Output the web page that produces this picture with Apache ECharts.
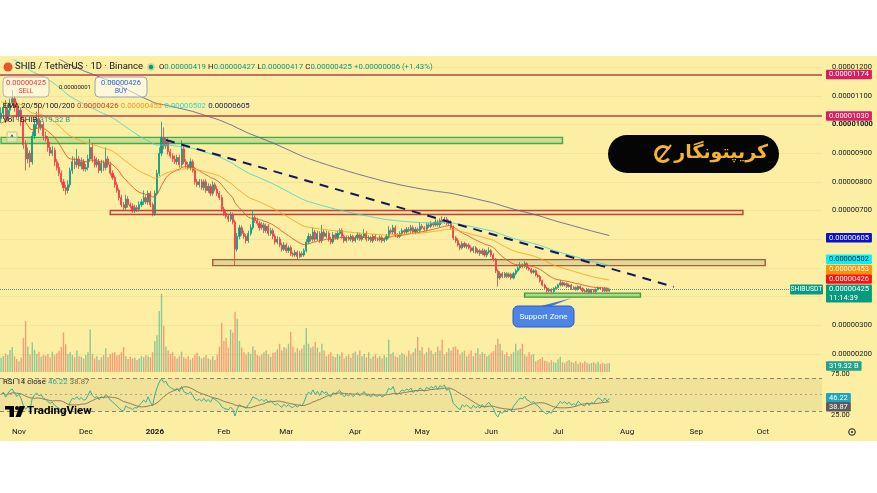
<!DOCTYPE html>
<html>
<head>
<meta charset="utf-8">
<script src="https://cdn.jsdelivr.net/npm/echarts@6/dist/echarts.min.js"></script>
<style>
  html, body { margin: 0; padding: 0; background: #fff; }
  #chart { width: 877px; height: 493px; }
</style>
</head>
<body>
<div id="chart"></div>
<script>
// ---- data (prices in units of 1e-8 USDT) ----
const firstDay = '2025-10-24';
const totalDays = 369;          // time axis runs on into late Oct 2026
const firstOpen = 1020;

const closes = [
  1040,1060,1020,1050,1075,1090,1060,1030,1050,1010,
  930,880,900,870,960,1000,1020,990,1000,960,
  950,920,900,910,870,850,830,800,780,770,
  790,840,870,860,880,855,870,845,850,880,
  920,880,860,870,840,865,850,880,860,830,
  815,790,770,745,720,710,740,720,715,700,
  710,705,720,730,745,730,760,720,690,760,
  830,900,955,925,940,905,890,880,870,885,
  860,915,870,860,850,870,840,800,790,800,
  780,800,770,785,760,790,775,760,745,705,
  690,680,670,685,660,565,610,640,620,610,
  595,620,640,675,665,655,640,650,630,645,
  620,630,610,590,600,580,565,580,560,570,
  550,545,555,540,550,545,560,590,610,600,
  625,600,620,595,625,610,620,600,590,615,
  605,620,630,610,595,605,600,610,595,605,
  615,600,610,620,600,605,595,610,600,598,
  605,595,600,610,630,625,640,615,610,620,
  630,625,635,630,640,625,635,630,645,640,
  635,650,645,655,650,660,650,665,660,670,
  655,660,640,605,595,580,570,585,575,580,
  570,560,570,555,560,550,560,545,555,560,
  545,530,490,465,480,470,480,470,478,465,
  480,490,500,510,505,515,500,495,485,490,
  475,470,455,440,430,420,425,418,428,432,
  440,448,440,445,435,440,428,432,425,435,
  428,420,418,425,415,422,418,425,430,428,
  420,428,419,425
];

const upWick = [
  20,15,25,20,15,30,10,20,15,10, 10,15,20,10,15,20,25,50,15,10,
  15,10,20,15,10,10,15,10,10,10, 15,10,20,15,35,10,15,10,12,15,
  30,15,10,15,10,12,10,40,10,10, 10,8,10,8,10,10,15,10,8,10,
  10,8,12,10,25,10,10,8,8,10, 12,20,55,35,15,15,10,10,12,10,
  10,30,12,10,10,12,8,10,10,10, 10,8,10,10,8,12,8,10,8,10,
  8,10,8,10,8,8,12,10,8,10, 8,10,12,27,8,10,8,10,8,10,
  8,10,8,8,10,8,8,10,8,8, 8,6,8,6,8,8,8,10,12,8,
  15,8,10,8,25,8,10,8,8,10, 8,10,8,8,6,8,8,8,6,8,
  10,8,8,15,8,8,6,8,8,6, 8,8,6,8,15,8,10,8,6,8,
  8,6,8,8,10,8,8,6,15,8, 6,8,8,8,6,10,8,8,15,8,
  8,8,6,8,6,8,6,8,6,6, 6,8,6,6,8,6,8,6,8,12,
  6,6,5,6,8,6,6,5,6,5, 6,6,6,10,6,8,5,6,5,6,
  5,5,5,4,5,4,5,4,5,5, 5,10,5,5,4,5,4,5,4,5,
  4,4,4,5,4,5,4,4,5,4, 4,5,4,2
];

const downWick = [
  15,20,15,10,20,10,15,10,20,15, 15,40,15,20,10,10,15,20,10,15,
  10,15,10,10,15,10,10,10,12,15, 10,10,12,15,10,10,12,8,10,10,
  10,12,10,10,10,8,12,10,10,8, 8,10,8,10,8,10,8,10,8,8,
  8,10,8,8,10,8,10,8,10,8, 8,10,10,12,10,10,8,10,8,10,
  10,10,8,10,8,10,8,10,8,10, 8,10,8,8,10,8,8,10,8,8,
  8,8,10,8,8,55,8,10,8,8, 10,8,8,8,8,8,10,8,8,8,
  8,8,10,8,8,8,8,6,8,8, 8,6,6,10,6,8,6,6,8,8,
  8,8,6,8,8,8,6,8,8,6, 6,8,6,8,8,6,6,8,6,6,
  8,6,8,6,8,6,6,8,6,6, 6,8,6,6,8,6,8,8,6,6,
  6,8,6,6,8,6,8,6,8,6, 6,8,6,6,8,6,6,8,6,6,
  6,8,6,8,8,6,8,6,6,8, 6,6,8,6,6,8,6,6,8,6,
  6,8,8,30,6,6,5,6,5,6, 5,6,5,6,6,5,6,5,6,5,
  5,5,6,5,5,8,5,4,5,4, 4,5,5,4,5,4,5,4,5,4,
  4,5,4,4,5,4,4,5,4,4, 4,4,4,2
];

// volume in billions of SHIB
const volumes = [
  500,560,650,600,780,880,560,460,380,500, 1200,1800,900,620,1050,780,640,720,540,600,
  580,640,520,720,600,650,740,880,1400,980, 640,700,600,520,760,560,540,480,600,700,
  1500,640,480,560,420,520,600,840,520,640, 680,700,580,600,700,880,560,460,540,480,
  500,420,480,560,520,600,560,520,700,1100, 1300,2150,2770,1630,900,760,640,700,560,480,
  560,720,520,480,560,440,500,620,680,560, 480,520,600,480,440,560,420,620,900,1740,
  1100,1200,860,1500,1400,2130,1880,1100,860,700, 620,700,640,900,780,600,560,620,700,760,
  620,540,680,700,800,1000,760,880,840,1000, 1420,900,700,840,760,820,960,1560,1000,860,
  900,1060,860,700,1000,760,560,620,700,560, 520,640,580,700,480,560,620,500,660,720,
  600,760,560,640,520,700,480,560,620,500, 560,480,600,520,1140,640,700,560,520,600,
  680,620,560,760,620,700,840,1240,760,880, 620,700,860,760,640,700,900,760,1140,620,
  700,840,760,880,900,800,620,700,760,560, 620,760,560,680,840,620,700,640,560,600,
  680,740,960,1180,1000,760,620,700,560,640, 700,1000,760,820,1000,620,560,700,600,640,
  380,420,460,520,400,380,340,420,360,330, 450,540,350,320,380,420,360,330,390,290,
  350,320,380,330,290,320,350,300,360,280, 320,290,300,319.32
];

const emaPeriods = [20, 50, 100, 200];
const emaSeeds = [1000, 1080, 1250, 1310];   // values at the left edge
const emaLast = [426, 453, 502, 605];        // legend / tag values
const lastPrice = 425;
const bidAsk = ['0.00000425', '0.00000426', '0.00000001'];
const volLast = 319.32;
const rsiLast = [46.22, 38.87];
const hLevels = [1174, 1030];
const trendLine = [[74, 946], [302, 434]];    // [day index, price]
// zones: [from day, to day, low, high]
const zoneTop = [0, 252, 934, 955];
const zone700 = [49, 333, 686, 700];
const zone520 = [95, 343, 508, 529];
const zoneSupport = [235, 287, 398, 412];

// ---- derived ----
const dates = [];
const t0 = Date.parse(firstDay + 'T00:00:00Z');
for (let i = 0; i < totalDays; i++) dates.push(new Date(t0 + i * 864e5).toISOString().slice(0, 10));

const candles = closes.map((c, i) => {
  const o = i ? closes[i - 1] : firstOpen;
  return [o, c, Math.min(o, c) - downWick[i], Math.max(o, c) + upWick[i]];
});

function ema(src, n, seed) {
  const a = 2 / (n + 1);
  let e = seed;
  return src.map(v => (e += a * (v - e)));
}
const emas = emaPeriods.map((n, k) => ema(closes, n, emaSeeds[k]));

const rsi = [];
let ag = 12, al = 12;
closes.forEach((c, i) => {
  if (i) {
    const d = c - closes[i - 1];
    ag = (ag * 13 + Math.max(d, 0)) / 14;
    al = (al * 13 + Math.max(-d, 0)) / 14;
  }
  rsi.push(100 - 100 / (1 + ag / al));
});
const rsiMa = rsi.map((v, i) => {
  const s = rsi.slice(Math.max(0, i - 13), i + 1);
  return s.reduce((a, b) => a + b, 0) / s.length;
});

const UP = '#089981', DOWN = '#f23645';
const BG = '#fcefa4';
const FONT = 'Roboto, "Liberation Sans", sans-serif';
const TXT = '#131722';
const CLEAR = 'rgba(0,0,0,0)';
const MONTHS = ['Jan','Feb','Mar','Apr','May','Jun','Jul','Aug','Sep','Oct','Nov','Dec'];
const emaColors = ['#e2521f', '#f5a31a', '#3fd6d0', '#5a5d92'];
const emaTagBg = ['#ff1010', '#ff9000', '#00f2ff', '#0a10cc'];
const emaTagFg = ['#fff', '#fff', TXT, '#fff'];
const emaTagShift = [-10, -12, -8, 0];   // stacked tags are pushed apart on the scale
const fmtP = v => (v * 1e-8).toFixed(8);

// price tag on the right scale; the line itself is invisible unless overridden
function tag(value, text, bg, fg, extra) {
  const item = {
    yAxis: value,
    lineStyle: { color: CLEAR, width: 1 },
    label: {
      show: true, position: 'end', distance: 4, formatter: text,
      backgroundColor: bg, color: fg || '#fff', fontSize: 7.5, fontFamily: FONT,
      padding: [1, 3, 0, 3], borderRadius: 1, lineHeight: 8.5
    }
  };
  if (extra && extra.lineStyle) item.lineStyle = extra.lineStyle;
  if (extra && extra.offset) item.label.offset = extra.offset;
  return item;
}
function plainLabel(value, text) {
  return {
    yAxis: value, lineStyle: { color: CLEAR },
    label: { show: true, position: 'end', distance: 9, formatter: text, color: TXT, fontSize: 7.5, fontFamily: FONT }
  };
}
function zone(z, fill, border) {
  return [
    { xAxis: dates[z[0]], yAxis: z[2], itemStyle: { color: fill, borderColor: border, borderWidth: 1.4 } },
    { xAxis: dates[z[1]], yAxis: z[3] }
  ];
}

const chart = echarts.init(document.getElementById('chart'), null, { renderer: 'canvas' });

const grids = [
  { left: 0, top: 60, width: 822, height: 322.6, outerBoundsMode: 'none' },   // price
  { left: 0, top: 290, width: 822, height: 82, outerBoundsMode: 'none' },     // volume
  { left: 0, top: 370, width: 822, height: 50, outerBoundsMode: 'none' }      // RSI
];

const hiddenX = gi => ({
  type: 'category', gridIndex: gi, data: dates, boundaryGap: true,
  axisLine: { show: false }, axisTick: { show: false }, axisLabel: { show: false }, splitLine: { show: false }
});

const option = {
  backgroundColor: BG,
  animation: false,
  textStyle: { fontFamily: FONT },
  grid: grids,
  xAxis: [
    hiddenX(0),
    hiddenX(1),
    {
      type: 'category', gridIndex: 2, data: dates, boundaryGap: true,
      axisLine: { show: false }, axisTick: { show: false }, splitLine: { show: false },
      axisLabel: {
        interval: (idx, v) => v.slice(8) === '01',
        margin: 8, fontSize: 8, color: TXT, fontFamily: FONT,
        formatter: v => v.slice(5, 7) === '01' ? '{b|' + v.slice(0, 4) + '}' : MONTHS[+v.slice(5, 7) - 1],
        rich: { b: { fontWeight: 'bold', fontSize: 8, color: TXT } }
      }
    }
  ],
  yAxis: [
    {
      type: 'value', gridIndex: 0, position: 'right', min: 100, max: 1225, interval: 100,
      axisLine: { show: false }, axisTick: { show: false },
      splitLine: { show: true, showMinLine: false, showMaxLine: false, lineStyle: { color: 'rgba(120,100,20,0.07)' } },
      axisLabel: {
        margin: 10, fontSize: 7.5, color: TXT, fontFamily: FONT, showMinLabel: false,
        formatter: v => ([100, 400, 500, 600].includes(v) ? '' : v === 1000 ? '{b|' + fmtP(v) + '}' : fmtP(v)),
        rich: { b: { fontWeight: 'bold', fontSize: 7.5, color: TXT } }
      }
    },
    { type: 'value', gridIndex: 1, min: 0, max: 2900, show: false, splitLine: { show: false } },
    { type: 'value', gridIndex: 2, min: 19, max: 80, show: false, splitLine: { show: false } }
  ],
  series: [
    {
      name: 'SHIBUSDT', type: 'candlestick', xAxisIndex: 0, yAxisIndex: 0,
      data: candles, barWidth: 1.6,
      itemStyle: { color: UP, color0: DOWN, borderColor: UP, borderColor0: DOWN, borderWidth: 0.8 },
      markArea: {
        silent: true,
        data: [
          zone(zoneTop, 'rgba(80,190,90,0.30)', '#46a84c'),
          zone(zone700, 'rgba(240,150,140,0.18)', '#b4473a'),
          zone(zone520, 'rgba(150,170,110,0.30)', '#b4533f'),
          zone(zoneSupport, 'rgba(80,190,90,0.45)', '#3c9c42')
        ]
      },
      markLine: {
        silent: true, symbol: ['none', 'none'], animation: false,
        data: [
          tag(hLevels[0], fmtP(hLevels[0]), '#d81e60', '#fff', { lineStyle: { color: '#b0454f', width: 1.5, type: 'solid' } }),
          tag(hLevels[1], fmtP(hLevels[1]), '#d81e60', '#fff', { lineStyle: { color: '#b0454f', width: 1.5, type: 'solid' } }),
          [
            { coord: [dates[trendLine[0][0]], trendLine[0][1]], lineStyle: { color: '#12185e', width: 2, type: [9, 7] }, label: { show: false } },
            { coord: [dates[trendLine[1][0]], trendLine[1][1]] }
          ],
          tag(lastPrice, fmtP(lastPrice) + '\n11:14:39', UP, '#fff', {
            lineStyle: { color: '#5f8f86', width: 1, type: 'dotted' }, offset: [0, 4]
          })
        ]
      }
    },
    ...emas.map((e, k) => ({
      name: 'EMA' + emaPeriods[k], type: 'line', xAxisIndex: 0, yAxisIndex: 0,
      data: e, showSymbol: false, symbol: 'none',
      lineStyle: { color: emaColors[k], width: 1, opacity: 0.85 },
      z: 3,
      markLine: {
        silent: true, symbol: ['none', 'none'],
        data: [tag(emaLast[k], fmtP(emaLast[k]), emaTagBg[k], emaTagFg[k], { offset: [0, emaTagShift[k]] })]
      }
    })),
    {
      name: 'Volume', type: 'bar', xAxisIndex: 1, yAxisIndex: 1, barWidth: 1.4,
      data: volumes.map((v, i) => ({
        value: v,
        itemStyle: { color: candles[i][1] >= candles[i][0] ? 'rgba(8,153,129,0.45)' : 'rgba(242,54,69,0.45)' }
      })),
      markLine: {
        silent: true, symbol: ['none', 'none'],
        data: [tag(volLast, volLast.toFixed(2) + ' B', '#22a38c', '#fff', { offset: [0, 3] })]
      }
    },
    {
      name: 'RSI', type: 'line', xAxisIndex: 2, yAxisIndex: 2, data: rsi,
      showSymbol: false, symbol: 'none', lineStyle: { color: '#38b09a', width: 1 },
      markArea: { silent: true, data: [[{ yAxis: 30, itemStyle: { color: 'rgba(150,120,60,0.10)' } }, { yAxis: 70 }]] },
      markLine: {
        silent: true, symbol: ['none', 'none'],
        data: [
          { yAxis: 70, lineStyle: { color: '#8a8577', type: [4, 3], width: 1 }, label: { show: false } },
          { yAxis: 50, lineStyle: { color: '#a8a290', type: [2, 3], width: 1 }, label: { show: false } },
          { yAxis: 30, lineStyle: { color: '#8a8577', type: [4, 3], width: 1 }, label: { show: false } },
          plainLabel(75, '75.00'),
          plainLabel(25, '25.00'),
          tag(rsiLast[0], rsiLast[0].toFixed(2), '#1ea4bd')
        ]
      }
    },
    {
      name: 'RSI MA', type: 'line', xAxisIndex: 2, yAxisIndex: 2, data: rsiMa,
      showSymbol: false, symbol: 'none', lineStyle: { color: '#8f7a5a', width: 1 },
      markLine: {
        silent: true, symbol: ['none', 'none'],
        data: [tag(rsiLast[1], rsiLast[1].toFixed(2), '#5b5b5b', '#fff', { offset: [0, 3] })]
      }
    }
  ]
};

chart.setOption(option);

// ---- overlay text / drawings ----
const yLast = chart.convertToPixel({ yAxisIndex: 0 }, lastPrice);
const txt = (x, y, text, style) => ({
  type: 'text', x, y, z: 100, silent: true,
  style: Object.assign({ text, fill: TXT, font: '9px ' + FONT, verticalAlign: 'middle' }, style)
});
const f8 = '7.8px ' + FONT;

const graphics = [
  { type: 'rect', z: 200, silent: true, shape: { x: 0, y: 0, width: 877, height: 56 }, style: { fill: '#fff' } },
  { type: 'rect', z: 200, silent: true, shape: { x: 0, y: 441, width: 877, height: 52 }, style: { fill: '#fff' } },

  // header
  { type: 'circle', z: 100, silent: true, shape: { cx: 8, cy: 67, r: 4.5 }, style: { fill: '#e4572e' } },
  txt(15, 67, 'SHIB / TetherUS · 1D · Binance', { font: '9.5px ' + FONT }),
  { type: 'circle', z: 100, silent: true, shape: { cx: 151, cy: 67, r: 2.2 }, style: { fill: UP, stroke: 'rgba(8,153,129,0.25)', lineWidth: 3 } },
  txt(159, 67, '{k|O}{v|0.00000419} {k|H}{v|0.00000427} {k|L}{v|0.00000417} {k|C}{v|0.00000425} {v|+0.00000006 (+1.43%)}', {
    rich: { k: { fill: TXT, font: f8 }, v: { fill: UP, font: f8 } }
  }),

  { type: 'rect', z: 100, silent: true, shape: { x: 3, y: 77, width: 46, height: 20, r: 4 }, style: { fill: 'rgba(255,255,255,0.55)', stroke: '#b9b39b', lineWidth: 1 } },
  txt(26, 83, bidAsk[0], { fill: DOWN, font: '7.5px ' + FONT, align: 'center' }),
  txt(26, 91.5, 'SELL', { fill: DOWN, font: '6.5px ' + FONT, align: 'center' }),
  txt(59, 87, bidAsk[2], { font: '6px ' + FONT }),
  { type: 'rect', z: 100, silent: true, shape: { x: 95, y: 77, width: 52, height: 20, r: 4 }, style: { fill: 'rgba(255,255,255,0.55)', stroke: '#9aa3b5', lineWidth: 1 } },
  txt(121, 83, bidAsk[1], { fill: '#2962ff', font: '7.5px ' + FONT, align: 'center' }),
  txt(121, 91.5, 'BUY', { fill: '#2962ff', font: '6.5px ' + FONT, align: 'center' }),

  txt(3, 106, '{k|EMA 20/50/100/200} {a|' + fmtP(emaLast[0]) + '} {b|' + fmtP(emaLast[1]) + '} {c|' + fmtP(emaLast[2]) + '} {d|' + fmtP(emaLast[3]) + '}', {
    rich: {
      k: { fill: TXT, font: f8 }, a: { fill: '#d8401c', font: f8 },
      b: { fill: '#f09a1a', font: f8 }, c: { fill: '#38d3cf', font: f8 },
      d: { fill: '#16185a', font: f8 }
    }
  }),
  txt(3, 120, '{k|Vol · SHIB} {v|' + volLast.toFixed(2) + ' B}', {
    rich: { k: { fill: TXT, font: f8 }, v: { fill: '#22a38c', font: f8 } }
  }),
  { type: 'rect', z: 100, silent: true, shape: { x: 7, y: 132, width: 10, height: 10, r: 1 }, style: { fill: 'rgba(255,255,255,0.35)', stroke: '#c8bd86', lineWidth: 1 } },
  txt(12, 138, '^', { font: '8px ' + FONT, align: 'center' }),

  // brand pill
  { type: 'rect', z: 100, silent: true, shape: { x: 608, y: 135, width: 171, height: 38, r: 19 }, style: { fill: '#050505' } },
  txt(768, 153, 'کریپتونگار', { fill: '#f2b52c', font: 'bold 19px "DejaVu Sans"', align: 'right' }),
  { type: 'arc', z: 101, silent: true, shape: { cx: 663, cy: 154, r: 7.5, startAngle: 0.7, endAngle: 5.6 }, style: { stroke: '#f2b52c', lineWidth: 3, fill: 'none' } },
  { type: 'line', z: 101, silent: true, shape: { x1: 658, y1: 161, x2: 671, y2: 145 }, style: { stroke: '#f2b52c', lineWidth: 2 } },

  // support zone callout
  { type: 'polygon', z: 100, silent: true, shape: { points: [[537, 307], [549, 307], [572, 298]] }, style: { fill: '#3f78dd' } },
  { type: 'rect', z: 100, silent: true, shape: { x: 513, y: 306, width: 61, height: 21, r: 5 }, style: { fill: '#4c85e6', stroke: '#2d5cc2', lineWidth: 1 } },
  txt(543.5, 316.5, 'Support Zone', { fill: '#fff', font: '8px ' + FONT, align: 'center' }),

  // SHIBUSDT symbol tag on the price line
  { type: 'rect', z: 100, silent: true, shape: { x: 790, y: yLast - 5, width: 33, height: 10, r: 1 }, style: { fill: UP } },
  txt(806.5, yLast, 'SHIBUSDT', { fill: '#fff', font: '6.8px ' + FONT, align: 'center' }),

  // RSI legend
  txt(3, 382, '{k|RSI 14 close} {a|' + rsiLast[0].toFixed(2) + '} {b|' + rsiLast[1].toFixed(2) + '}', {
    rich: { k: { fill: TXT, font: f8 }, a: { fill: '#2aa99a', font: f8 }, b: { fill: '#7a6a50', font: f8 } }
  }),

  // TradingView watermark
  { type: 'rect', z: 100, silent: true, shape: { x: 5, y: 406, width: 9, height: 3.5 }, style: { fill: '#000' } },
  { type: 'rect', z: 100, silent: true, shape: { x: 9.5, y: 406, width: 4.5, height: 11 }, style: { fill: '#000' } },
  { type: 'circle', z: 100, silent: true, shape: { cx: 17, cy: 408, r: 2 }, style: { fill: '#000' } },
  { type: 'polygon', z: 100, silent: true, shape: { points: [[19.5, 406], [25, 406], [20.5, 417], [15.5, 417]] }, style: { fill: '#000' } },
  txt(27, 411.5, 'TradingView', { font: 'bold 11.5px ' + FONT, fill: '#000' }),

  // settings gear
  { type: 'circle', z: 100, silent: true, shape: { cx: 852, cy: 432, r: 3.3 }, style: { fill: 'none', stroke: TXT, lineWidth: 1 } },
  { type: 'circle', z: 100, silent: true, shape: { cx: 852, cy: 432, r: 1 }, style: { fill: TXT } }
];

chart.setOption({ graphic: graphics });
</script>
</body>
</html>
